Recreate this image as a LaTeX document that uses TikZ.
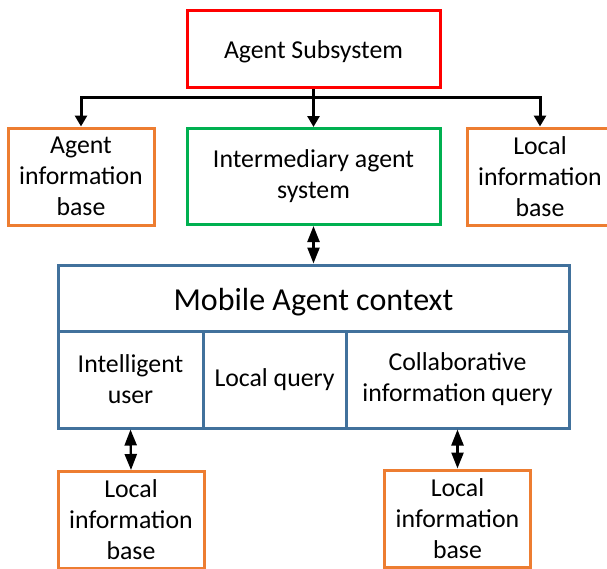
\documentclass[tikz,border=0pt]{standalone}
\usepackage{fontspec}
\setmainfont{Carlito}
\usetikzlibrary{arrows.meta}
\definecolor{cred}{HTML}{FF0000}
\definecolor{corange}{HTML}{ED7D31}
\definecolor{cgreen}{HTML}{00B050}
\definecolor{cblue}{HTML}{41719C}
\tikzset{
  box/.style={draw, line width=3pt, rectangle, inner sep=0pt, align=center,
    font=\fontsize{25.8}{31}\selectfont},
  redbox/.style={box, draw=cred},
  orbox/.style={box, draw=corange, minimum width=146pt, minimum height=97pt},
  grbox/.style={box, draw=cgreen},
  blbox/.style={box, draw=cblue, line width=3pt},
  arr/.style={line width=3pt, -{Triangle[length=11pt,width=12pt]}},
  darr/.style={line width=2.4pt, {Triangle[length=16pt,width=12pt]}-{Triangle[length=16pt,width=12pt]}},
}
\begin{document}
\begin{tikzpicture}[x=1pt,y=-1pt]
\useasboundingbox (0,0) rectangle (607,568);
\clip (0,0) rectangle (607,568);
\node[redbox, minimum width=253pt, minimum height=77pt] (red) at (313.5,49) {\raisebox{-9pt}[0pt][0pt]{Agent Subsystem}};
\node[orbox] (aib) at (81,176.5) {Agent\\information\\base};
\node[grbox, minimum width=253pt, minimum height=96pt] (green) at (313.5,176.5) {Intermediary agent\\system};
\node[orbox] (lib) at (540,176.5) {Local\\information\\base};
\coordinate (bus) at (313.5,97);
\draw[arr] (red.south) -- (green.north);
\draw[arr] (bus) -| (aib.north);
\draw[arr] (bus) -| (lib.north);
% blue context
\node[blbox, minimum width=511pt, minimum height=66pt, font=\fontsize{32}{38}\selectfont] (mac) at (313.5,298) {\raisebox{-12pt}[0pt][0pt]{Mobile Agent context}};
\node[blbox, minimum width=145pt, minimum height=97pt] (iu) at (130.5,379.5) {Intelligent\\user};
\node[blbox, minimum width=143pt, minimum height=97pt] (lq) at (274.5,379.5) {Local query};
\node[blbox, minimum width=223pt, minimum height=97pt] (ciq) at (457.5,379.5) {Collaborative\\information query};
\draw[darr] (green.south) -- (mac.north);
\node[orbox] (lb1) at (131,520) {Local\\information\\base};
\node[orbox] (lb2) at (457.5,518.5) {Local\\information\\base};
\draw[darr] (iu.south) -- (lb1.north);
\draw[darr] (ciq.south) -- (lb2.north);
\end{tikzpicture}
\end{document}
